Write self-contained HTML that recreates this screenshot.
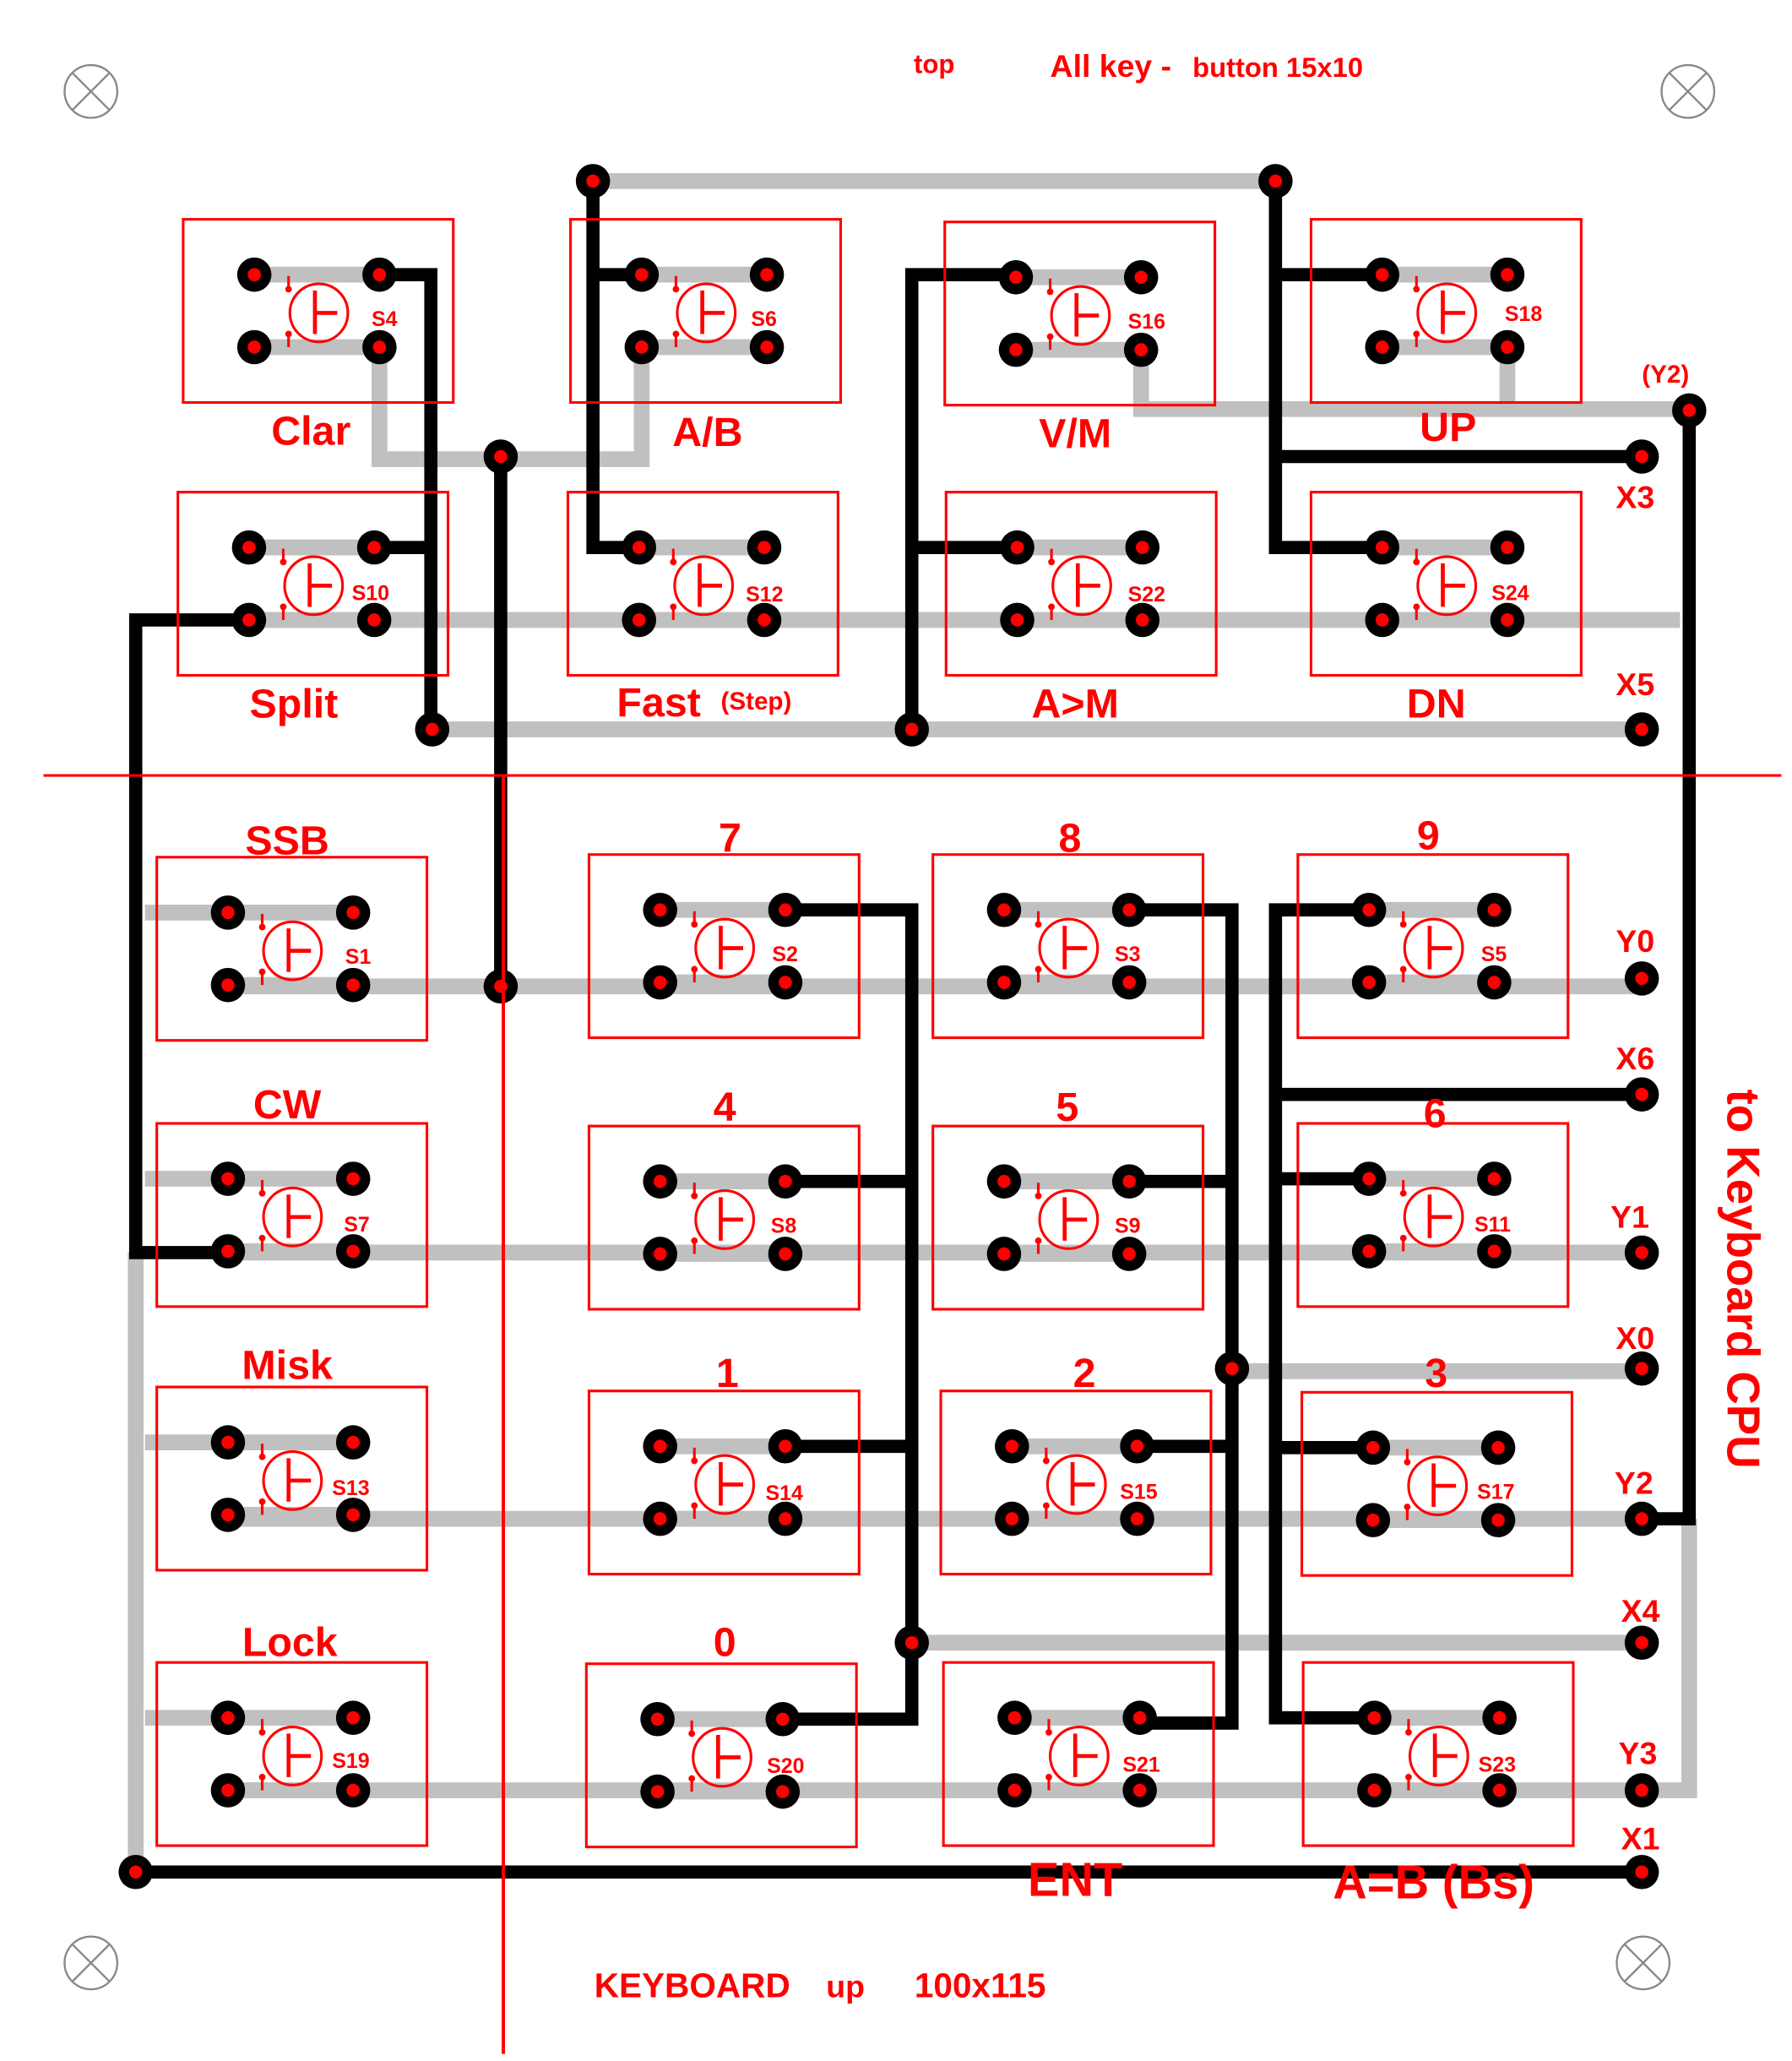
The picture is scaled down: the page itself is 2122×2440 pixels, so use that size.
<!DOCTYPE html>
<html><head><meta charset="utf-8"><style>
html,body{margin:0;padding:0;background:#fff;width:2122px;height:2440px;overflow:hidden}
svg{display:block}
text{font-family:"Liberation Sans",Arial,sans-serif;font-weight:bold;fill:#ff0000}
</style></head><body>
<svg width="2122" height="2440" viewBox="0 0 1360 1563" xmlns="http://www.w3.org/2000/svg">
<defs>
<g id="sw">
<line x1="0" y1="0" x2="95" y2="0" stroke="#c0c0c0" stroke-width="12"/>
<line x1="0" y1="55" x2="95" y2="55" stroke="#c0c0c0" stroke-width="12"/>
<rect x="-54" y="-42" width="205" height="139" fill="none" stroke="#f00" stroke-width="2"/>
<circle cx="0" cy="0" r="13"/><circle cx="95" cy="0" r="13"/><circle cx="0" cy="55" r="13"/><circle cx="95" cy="55" r="13"/>
<circle cx="0" cy="0" r="5" fill="#f00"/><circle cx="95" cy="0" r="5" fill="#f00"/><circle cx="0" cy="55" r="5" fill="#f00"/><circle cx="95" cy="55" r="5" fill="#f00"/>
<circle cx="49" cy="29" r="22" fill="none" stroke="#f00" stroke-width="2"/>
<line x1="46" y1="12" x2="46" y2="45" stroke="#f00" stroke-width="3"/>
<line x1="46" y1="29" x2="63" y2="29" stroke="#f00" stroke-width="3"/>
<line x1="26" y1="1" x2="26" y2="10" stroke="#f00" stroke-width="2"/><circle cx="26" cy="11" r="2.5" fill="#f00"/>
<line x1="26" y1="46" x2="26" y2="55" stroke="#f00" stroke-width="2"/><circle cx="26" cy="45" r="2.5" fill="#f00"/>
</g>
<g id="dot"><circle r="13"/><circle r="5" fill="#f00"/></g>
<g id="hole"><circle r="20" fill="none" stroke="#888" stroke-width="1.5"/><line x1="-14" y1="-14" x2="14" y2="14" stroke="#888" stroke-width="1.5"/><line x1="-14" y1="14" x2="14" y2="-14" stroke="#888" stroke-width="1.5"/></g>
</defs>
<rect width="1360" height="1563" fill="#fff"/>
<use href="#hole" x="69" y="69"/><use href="#hole" x="1281" y="69"/><use href="#hole" x="69" y="1489"/><use href="#hole" x="1247" y="1489"/>

<g stroke="#c0c0c0" stroke-width="12" fill="none">
<path d="M450 137H968"/>
<path d="M288 263V348H487V263"/>
<path d="M866 266V310H1282"/>
<path d="M1144 263V310"/>
<path d="M189 470H1275"/>
<path d="M328 553H1246"/>
<path d="M110 692H173M110 894H173M110 1094H173M110 1303H173"/>
<path d="M173 748H1246M173 950H1246M173 1152H1246M173 1358H1282V1152"/>
<path d="M103 950V1420"/>
<path d="M935 1040H1246"/>
<path d="M692 1246H1246"/>
</g>
<g stroke="#000" stroke-width="10" fill="none">
<path d="M1282 311V1152H1246"/>
<path d="M288 208H327V553"/><path d="M285 415H327"/>
<path d="M189 470H103V950H173"/>
<path d="M103 1420H1246"/>
<path d="M450 137V415H485M450 208H487"/>
<path d="M771 208H692V553M692 415H772"/>
<path d="M968 137V415H1049M968 208H1049M968 346H1246"/>
<path d="M380 346V748"/>
<path d="M596 690H692V1304H594M596 896H692M596 1097H692"/>
<path d="M857 690H935V1307H866M857 896H935M864 1097H935"/>
<path d="M1039 690H968V1303H1043M968 830H1246M968 894H1039M968 1098H1042"/>
</g>

<use href="#sw" x="193" y="208"/><use href="#sw" x="487" y="208"/><use href="#sw" x="771" y="210"/><use href="#sw" x="1049" y="208"/>
<use href="#sw" x="189" y="415"/><use href="#sw" x="485" y="415"/><use href="#sw" x="772" y="415"/><use href="#sw" x="1049" y="415"/>
<use href="#sw" x="173" y="692"/><use href="#sw" x="501" y="690"/><use href="#sw" x="762" y="690"/><use href="#sw" x="1039" y="690"/>
<use href="#sw" x="173" y="894"/><use href="#sw" x="501" y="896"/><use href="#sw" x="762" y="896"/><use href="#sw" x="1039" y="894"/>
<use href="#sw" x="173" y="1094"/><use href="#sw" x="501" y="1097"/><use href="#sw" x="768" y="1097"/><use href="#sw" x="1042" y="1098"/>
<use href="#sw" x="173" y="1303"/><use href="#sw" x="499" y="1304"/><use href="#sw" x="770" y="1303"/><use href="#sw" x="1043" y="1303"/>

<use href="#dot" x="450" y="137"/><use href="#dot" x="968" y="137"/><use href="#dot" x="380" y="346"/><use href="#dot" x="1282" y="311"/>
<use href="#dot" x="1246" y="346"/><use href="#dot" x="328" y="553"/><use href="#dot" x="692" y="553"/><use href="#dot" x="1246" y="553"/>
<use href="#dot" x="380" y="748"/><use href="#dot" x="1246" y="742"/><use href="#dot" x="1246" y="830"/><use href="#dot" x="1246" y="950"/>
<use href="#dot" x="1246" y="1038"/><use href="#dot" x="1246" y="1152"/><use href="#dot" x="692" y="1246"/><use href="#dot" x="935" y="1038"/>
<use href="#dot" x="1246" y="1246"/><use href="#dot" x="1246" y="1358"/><use href="#dot" x="103" y="1420"/><use href="#dot" x="1246" y="1420"/>

<line x1="33" y1="588" x2="1352" y2="588" stroke="#f00" stroke-width="2"/>
<line x1="382" y1="588" x2="382" y2="1558" stroke="#f00" stroke-width="2.5"/>

<g font-size="16">
<text x="282" y="247">S4</text><text x="570" y="247">S6</text><text x="856" y="249">S16</text><text x="1142" y="243">S18</text>
<text x="267" y="455">S10</text><text x="566" y="456">S12</text><text x="856" y="456">S22</text><text x="1132" y="455">S24</text>
<text x="262" y="731">S1</text><text x="586" y="729">S2</text><text x="846" y="729">S3</text><text x="1124" y="729">S5</text>
<text x="261" y="934">S7</text><text x="585" y="935">S8</text><text x="846" y="935">S9</text><text x="1119" y="934">S11</text>
<text x="252" y="1134">S13</text><text x="581" y="1138">S14</text><text x="850" y="1137">S15</text><text x="1121" y="1137">S17</text>
<text x="252" y="1341">S19</text><text x="582" y="1345">S20</text><text x="852" y="1344">S21</text><text x="1122" y="1344">S23</text>
</g>
<g font-size="31" text-anchor="middle">
<text x="236" y="337">Clar</text><text x="537" y="338">A/B</text><text x="816" y="339">V/M</text><text x="1099" y="334">UP</text>
<text x="223" y="544">Split</text><text x="500" y="543">Fast</text><text x="816" y="544">A&gt;M</text><text x="1090" y="544">DN</text>
<text x="218" y="648">SSB</text><text x="554" y="646">7</text><text x="812" y="646">8</text><text x="1084" y="644">9</text>
<text x="218" y="848">CW</text><text x="550" y="850">4</text><text x="810" y="850">5</text><text x="1089" y="855">6</text>
<text x="218" y="1046">Misk</text><text x="552" y="1052">1</text><text x="823" y="1052">2</text><text x="1090" y="1052">3</text>
<text x="220" y="1256">Lock</text><text x="550" y="1256">0</text>
</g>
<g font-size="36" text-anchor="middle">
<text x="816" y="1438">ENT</text><text x="1088" y="1440">A=B (Bs)</text>
</g>
<text x="547" y="538" font-size="19">(Step)</text>
<g font-size="24" text-anchor="middle">
<text x="1241" y="385">X3</text><text x="1241" y="527">X5</text><text x="1241" y="722">Y0</text><text x="1241" y="811">X6</text>
<text x="1237" y="931">Y1</text><text x="1241" y="1023">X0</text><text x="1240" y="1133">Y2</text><text x="1245" y="1230">X4</text>
<text x="1243" y="1338">Y3</text><text x="1245" y="1403">X1</text>
</g>
<text x="1264" y="290" font-size="19" text-anchor="middle">(Y2)</text>
<text x="709" y="55" font-size="20" text-anchor="middle">top</text>
<text x="797" y="58" font-size="24">All key -</text>
<text x="905" y="58" font-size="21">button 15x10</text>
<text x="451" y="1515" font-size="26">KEYBOARD</text><text x="627" y="1515" font-size="24">up</text>
<text x="694" y="1515" font-size="26">100x115</text>
<text transform="translate(1311,970) rotate(90)" font-size="35" text-anchor="middle">to Keyboard CPU</text>
</svg>
</body></html>
